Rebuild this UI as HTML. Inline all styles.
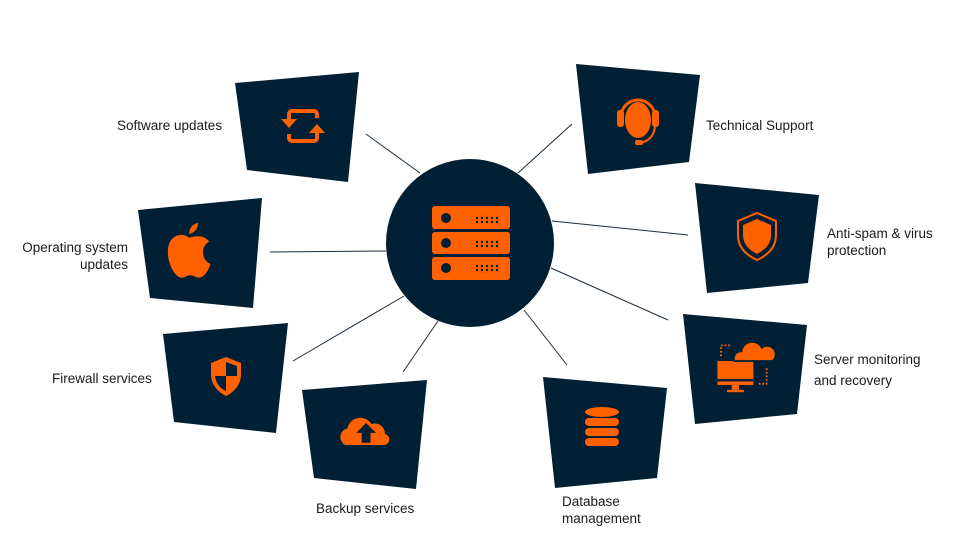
<!DOCTYPE html>
<html><head><meta charset="utf-8"><style>
html,body{margin:0;padding:0;background:#fff;}
svg{display:block;}
text{font-family:"Liberation Sans",sans-serif;font-size:13.5px;fill:#1a1a1a;}
</style></head><body>
<svg width="958" height="550" viewBox="0 0 958 550" xmlns="http://www.w3.org/2000/svg">
<defs>
<pattern id="dots" width="5" height="4" patternUnits="userSpaceOnUse"><circle cx="2" cy="2" r="1.2" fill="#022035"/></pattern>
</defs>
<g stroke="#1b2b3c" stroke-width="1">
<line x1="366" y1="134" x2="420" y2="173"/>
<line x1="518" y1="173" x2="572" y2="124"/>
<line x1="270" y1="252" x2="386" y2="251"/>
<line x1="552" y1="221" x2="688" y2="235"/>
<line x1="293" y1="361" x2="404" y2="296"/>
<line x1="551" y1="268" x2="668" y2="320"/>
<line x1="403" y1="372" x2="438" y2="321"/>
<line x1="567" y1="365" x2="524" y2="310"/>
</g>
<circle cx="470" cy="243" r="84" fill="#022035"/>
<g fill="#ff6100">
<rect x="432" y="206" width="78" height="23" rx="3"/>
<rect x="432" y="232" width="78" height="22" rx="3"/>
<rect x="432" y="257" width="78" height="23" rx="3"/>
</g>
<g fill="#022035">
<circle cx="446" cy="218" r="5"/><circle cx="446" cy="243" r="5"/><circle cx="446" cy="268" r="5"/>
</g>
<rect x="475" y="215" width="25" height="8" fill="url(#dots)"/>
<rect x="475" y="240" width="25" height="8" fill="url(#dots)"/>
<rect x="475" y="265" width="25" height="8" fill="url(#dots)"/>
<g fill="#022035">
<polygon points="235,83 359,72 348,182 247,170"/>
<polygon points="576,64 700,75 689,162 588,174"/>
<polygon points="138,210 262,198 253,308 150,298"/>
<polygon points="695,183 819,195 808,283 707,293"/>
<polygon points="163,334 288,323 276,433 174,422"/>
<polygon points="683,314 807,325 797,414 695,424"/>
<polygon points="302,390 427,380 416,489 314,478"/>
<polygon points="543,377 667,388 657,478 555,488"/>
</g>
<g fill="none" stroke="#ff6100" stroke-width="4">
<path d="M289 122 v-8 a3 3 0 0 1 3 -3 h22 a3 3 0 0 1 3 3 v4"/>
<path d="M317 132 v6 a3 3 0 0 1 -3 3 h-22 a3 3 0 0 1 -3 -3 v-4"/>
</g>
<polygon fill="#ff6100" points="281,119 297,119 289,128"/>
<polygon fill="#ff6100" points="309,133 325,133 317,124"/>
<path d="M621 117 a17 17 0 0 1 34 0" fill="none" stroke="#ff6100" stroke-width="3"/>
<ellipse cx="638" cy="120" rx="13" ry="18" fill="#ff6100"/>
<rect x="617" y="110" width="7" height="17" rx="3" fill="#ff6100"/>
<rect x="652" y="110" width="7" height="17" rx="3" fill="#ff6100"/>
<path d="M655 124 q0 16 -15 19" fill="none" stroke="#ff6100" stroke-width="2"/>
<rect x="635" y="140" width="8" height="5" rx="2" fill="#ff6100"/>
<g transform="translate(193,254) scale(1.25) translate(-193,-254)">
<path fill="#ff6100" d="M190 241 c-6 -5 -16 -2 -17 9 c-1 12 6 23 11 23 c3 0 4 -2 7 -2 c3 0 4 2 7 2 c4 0 8 -7 9 -11 c-4 -2 -6 -5 -6 -10 c0 -4 3 -7 5 -8 c-4 -5 -10 -5 -16 -3z M190 238 c0 -5 3 -8 7 -9 c0 5 -3 8 -7 9z"/>
</g>
<path d="M757 213 l19 8 v14 c0 12 -8 20 -19 25 c-11 -5 -19 -13 -19 -25 v-14z" fill="#022035" stroke="#ff6100" stroke-width="2"/>
<path d="M757 219 l14 6 v10 c0 9 -6 15 -14 19 c-8 -4 -14 -10 -14 -19 v-10z" fill="#ff6100"/>
<path d="M226 357 l15 6 v11 c0 11 -7 18 -15 22 c-8 -4 -15 -11 -15 -22 v-11z" fill="#ff6100"/>
<path d="M226 362 l11 4 v10 h-11z M226 376 h-11 c1 8 6 13 11 15z" fill="#022035"/>
<g transform="translate(745,367) scale(1.2) translate(-745,-367)">
<rect x="722" y="362" width="30" height="20" fill="#ff6100"/>
<rect x="722" y="377" width="30" height="2" fill="#022035"/>
<rect x="734" y="382" width="6" height="4" fill="#ff6100"/>
<rect x="730" y="386" width="14" height="2" fill="#ff6100"/>
<path d="M736 362 a6 6 0 0 1 6 -8 a9 9 0 0 1 17 -3 a7 7 0 0 1 9 11z" fill="#ff6100" stroke="#022035" stroke-width="1.5"/>
<path d="M725 358 v-9 h9 M763 368 v13 h-7" fill="none" stroke="#ff6100" stroke-width="1.5" stroke-dasharray="1.5 1.5"/>
</g>
<g transform="translate(365,434) scale(1.1) translate(-365,-434)">
<path d="M347 444 a8 8 0 0 1 2 -15 a12 12 0 0 1 22 -4 a9 9 0 0 1 12 9 a5 5 0 0 1 -2 10z" fill="#ff6100"/>
<polygon fill="#022035" points="366,424 357,433 362,433 362,442 370,442 370,433 375,433"/>
</g>
<g fill="#ff6100">
<ellipse cx="602" cy="412" rx="17" ry="5"/>
<rect x="585" y="418" width="34" height="8" rx="4"/>
<rect x="585" y="428" width="34" height="8" rx="4"/>
<rect x="585" y="438" width="34" height="8" rx="4"/>
</g>
<text x="117" y="130">Software updates</text>
<text x="706" y="130">Technical Support</text>
<text x="128" y="252" text-anchor="end">Operating system</text>
<text x="128" y="269" text-anchor="end">updates</text>
<text x="827" y="238">Anti-spam &amp; virus</text>
<text x="827" y="255">protection</text>
<text x="52" y="383">Firewall services</text>
<text x="814" y="364">Server monitoring</text>
<text x="814" y="385">and recovery</text>
<text x="316" y="513">Backup services</text>
<text x="562" y="506">Database</text>
<text x="562" y="523">management</text>
</svg>
</body></html>
